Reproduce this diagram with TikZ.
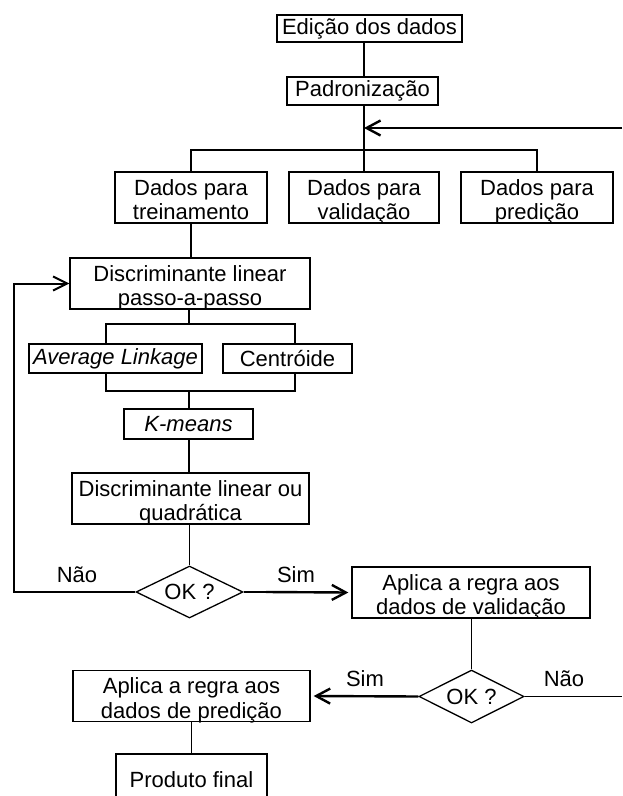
\documentclass[tikz,border=0pt]{standalone}
\usepackage{fontspec}
\setmainfont{Liberation Sans}
\usetikzlibrary{shapes.geometric,arrows.meta}
\newcommand{\fsz}{\fontsize{22}{24.5}\selectfont}
\tikzset{
  box/.style={draw, line width=1.3pt, inner sep=0pt, align=center, font=\fsz},
  twoline/.style={box, text height=46pt, text depth=2pt},
  dec/.style={draw, shape=diamond, shape aspect=2, line width=1.3pt, inner sep=0pt, font=\fsz},
  lbl/.style={inner sep=0pt, font=\fsz},
  conn/.style={line width=1.3pt},
  loopline/.style={line width=2pt, -{Straight Barb[length=14pt,width=14pt]}},
  bigarrow/.style={line width=2.4pt, -{Straight Barb[length=14pt,width=15pt]}},
}
\begin{document}
\begin{tikzpicture}[x=1pt,y=-1pt]
\useasboundingbox (0,0) rectangle (622,796);
% nodes
\node[box, minimum width=185, minimum height=27] (edicao) at (369.5,28.5) {Edição dos dados};
\node[box, minimum width=151, minimum height=28] (padr) at (362.5,91) {Padronização};
\node[twoline, minimum width=152, minimum height=51] (trein) at (191,197.5) {Dados para\\treinamento};
\node[twoline, minimum width=150, minimum height=51] (valid) at (364,197.5) {Dados para\\validação};
\node[twoline, minimum width=152, minimum height=51] (pred) at (537,197.5) {Dados para\\predição};
\node[twoline, minimum width=240, minimum height=51] (passo) at (190,283.5) {Discriminante linear\\passo-a-passo};
\node[box, minimum width=173, minimum height=29] (avg) at (115.5,358.5) {\itshape Average Linkage};
\node[box, minimum width=129, minimum height=29] (cent) at (287.5,358.5) {Centróide};
\node[box, minimum width=129, minimum height=30] (kmeans) at (188.5,424) {\itshape K-means};
\node[twoline, minimum width=237, minimum height=51] (quad) at (190.5,498.5) {Discriminante linear ou\\quadrática};
\node[dec, minimum width=107, minimum height=52] (ok1) at (189.5,592) {OK ?};
\node[twoline, minimum width=238, minimum height=51] (aplval) at (471,592.5) {Aplica a regra aos\\dados de validação};
\node[dec, minimum width=105, minimum height=53] (ok2) at (471.5,696.5) {OK ?};
\node[twoline, minimum width=237, minimum height=51] (aplpred) at (191.5,696) {Aplica a regra aos\\dados de predição};
\node[box, minimum width=151, minimum height=52] (prod) at (191.5,780) {Produto final};
% labels
\node[lbl] (nao1) at (77,575) {Não};
\node[lbl] (sim1) at (296,575) {Sim};
\node[lbl] (sim2) at (365,679) {Sim};
\node[lbl] (nao2) at (564,679) {Não};
% coordinates
\coordinate (sp) at (364,0);
\coordinate (b1) at (364,150);
\coordinate (rin) at (622,128);
\coordinate (b2) at (189,324);
\coordinate (al) at (106,324);
\coordinate (ar) at (295,324);
\coordinate (b3) at (189,391);
\coordinate (lp) at (14,0);
\coordinate (c1) at (266,592);
\coordinate (rout) at (622,696.5);
% connectors
\draw[conn] (sp |- edicao.south) -- (sp |- padr.north);
\draw[conn] (sp |- padr.south) -- (valid.north);
\draw[conn] (trein.north) -- (trein.north |- b1) -- (pred.north |- b1) -- (pred.north);
\draw[bigarrow] (rin) -- (sp |- rin);
\draw[conn] (trein.south) -- (trein.south |- passo.north);
\draw[conn] (b2 |- passo.south) -- (b2);
\draw[conn] (al |- avg.north) -- (al) -- (ar) -- (ar |- cent.north);
\draw[conn] (al |- avg.south) -- (al |- b3) -- (ar |- b3) -- (ar |- cent.south);
\draw[conn] (b3) -- (b3 |- kmeans.north);
\draw[conn] (b3 |- kmeans.south) -- (b3 |- quad.north);
\draw[conn] (ok1.north |- quad.south) -- (ok1.north);
\draw[loopline] (ok1.west) -| (lp |- passo.west) -- (passo.west);
\draw[conn] (ok1.east) -- (c1);
\draw[bigarrow] (c1) -- ([xshift=-3pt]aplval.west);
\draw[conn] (ok2.north |- aplval.south) -- (ok2.north);
\draw[conn] (ok2.east) -- (rout);
\draw[bigarrow] (ok2.west) -- ([xshift=3pt]aplpred.east);
\draw[conn] (aplpred.south) -- (prod.north);
\end{tikzpicture}
\end{document}
